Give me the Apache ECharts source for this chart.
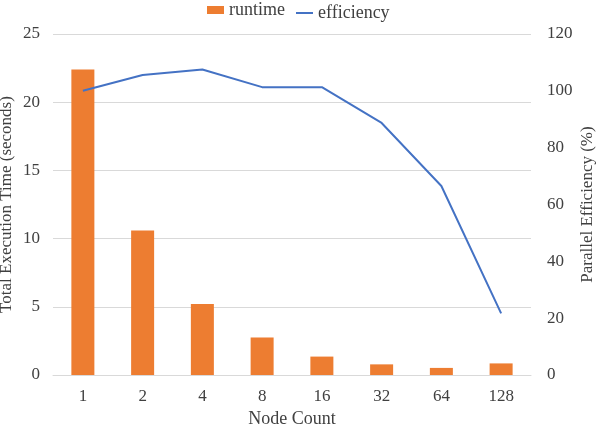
<!DOCTYPE html>
<html>
<head>
<meta charset="utf-8">
<script src="https://cdn.jsdelivr.net/npm/echarts@6/dist/echarts.min.js"></script>
<style>
  html, body { margin: 0; padding: 0; background: #fff; }
  #chart { width: 597px; height: 429px; }
</style>
</head>
<body>
<div id="chart"></div>
<script>
// node counts on the x axis
var nodeCounts = ['1', '2', '4', '8', '16', '32', '64', '128']
// total execution time, seconds
var runtime = [22.4, 10.6, 5.2, 2.75, 1.35, 0.78, 0.52, 0.85]
// parallel efficiency, percent
var efficiency = [100, 105.6, 107.5, 101.3, 101.3, 88.7, 66.5, 21.7]

var font = 'Liberation Serif'
var textColor = '#404040'
var gridColor = '#d9d9d9'
var orange = '#ED7D31'
var blue = '#4472C4'

var chart = echarts.init(document.getElementById('chart'))
chart.setOption({
  animation: false,
  textStyle: { fontFamily: font },
  // two legends so each icon can have its own shape
  legend: [
    {
      left: 207,
      top: 0,
      itemWidth: 17,
      itemHeight: 8,
      padding: [1, 0, 0, 0],
      textStyle: { fontFamily: font, fontSize: 18, color: textColor },
      data: [{ name: 'runtime', icon: 'rect' }]
    },
    {
      left: 296,
      top: 0,
      itemWidth: 17,
      itemHeight: 2,
      padding: [4, 0, 0, 0],
      textStyle: { fontFamily: font, fontSize: 18, color: textColor },
      data: [{ name: 'efficiency', icon: 'rect' }]
    }
  ],
  grid: {
    left: 53,
    right: 66,
    top: 34,
    bottom: 54,
    containLabel: false,
    outerBoundsMode: 'none'
  },
  xAxis: {
    type: 'category',
    data: nodeCounts,
    name: 'Node Count',
    nameLocation: 'middle',
    nameGap: 35,
    nameMoveOverlap: false,
    nameTextStyle: { fontFamily: font, fontSize: 18, color: textColor },
    axisLine: { lineStyle: { color: gridColor } },
    axisTick: { show: false },
    axisLabel: { fontFamily: font, fontSize: 17, color: textColor, margin: 13 }
  },
  yAxis: [
    {
      type: 'value',
      min: 0,
      max: 25,
      interval: 5,
      name: 'Total Execution Time (seconds)',
      nameLocation: 'middle',
      nameGap: 38,
      nameMoveOverlap: false,
      nameTextStyle: { fontFamily: font, fontSize: 17, color: textColor },
      axisLine: { show: false },
      axisTick: { show: false },
      axisLabel: { fontFamily: font, fontSize: 17, color: textColor, margin: 13 },
      splitLine: { lineStyle: { color: gridColor } }
    },
    {
      type: 'value',
      min: 0,
      max: 120,
      interval: 20,
      name: 'Parallel Efficiency (%)',
      nameLocation: 'middle',
      nameGap: 48,
      nameRotate: 90,
      nameMoveOverlap: false,
      nameTextStyle: { fontFamily: font, fontSize: 17, color: textColor },
      axisLine: { show: false },
      axisTick: { show: false },
      axisLabel: { fontFamily: font, fontSize: 17, color: textColor, margin: 16 },
      splitLine: { show: false }
    }
  ],
  series: [
    {
      name: 'runtime',
      type: 'bar',
      data: runtime,
      barWidth: '38.5%',
      itemStyle: { color: orange }
    },
    {
      name: 'efficiency',
      type: 'line',
      yAxisIndex: 1,
      data: efficiency,
      showSymbol: false,
      symbol: 'none',
      itemStyle: { color: blue },
      lineStyle: { color: blue, width: 2 }
    }
  ]
})
</script>
</body>
</html>
